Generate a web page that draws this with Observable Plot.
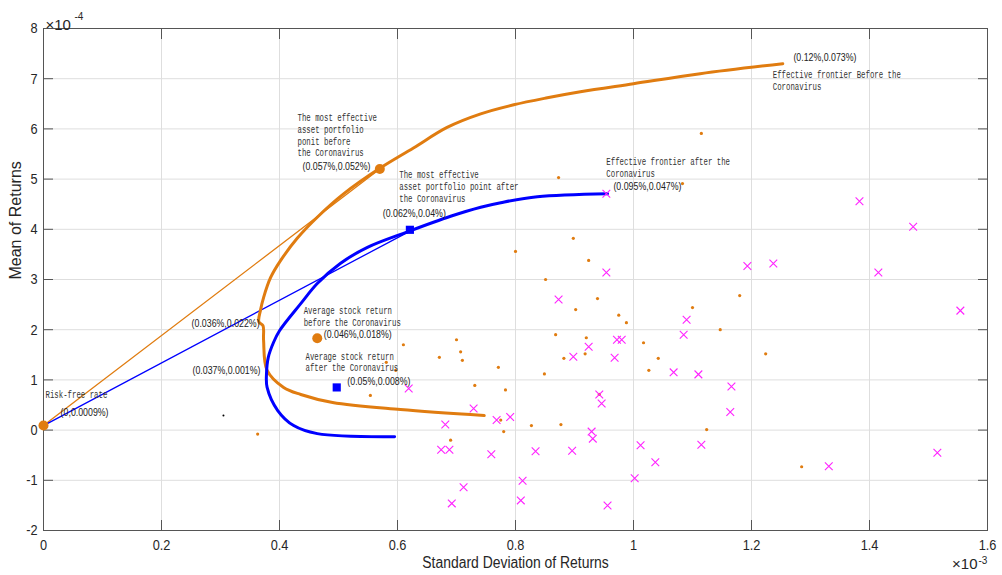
<!DOCTYPE html>
<html><head><meta charset="utf-8">
<script src="https://cdn.jsdelivr.net/npm/d3@7"></script>
<script src="https://cdn.jsdelivr.net/npm/@observablehq/plot@0.6"></script>
<style>body{margin:0;background:#fff;overflow:hidden}</style>
</head><body><div id="chart"></div>
<script>
// Units: x in 1e-3, y in 1e-4 (as on the axes)
const xTicks = [0, 0.2, 0.4, 0.6, 0.8, 1.0, 1.2, 1.4, 1.6];
const yTicks = [-2, -1, 0, 1, 2, 3, 4, 5, 6, 7, 8];

const beforeFrontierSD   = [0.747, 0.605, 0.49, 0.436, 0.407, 0.379, 0.373, 0.372, 0.365, 0.368, 0.373, 0.385, 0.402, 0.43, 0.464, 0.508, 0.568, 0.627, 0.684, 0.741, 0.797, 0.854, 0.91, 1.0, 1.113, 1.253];
const beforeFrontierMean = [0.29, 0.41, 0.55, 0.71, 0.85, 1.19, 1.79, 2.08, 2.16, 2.4, 2.64, 3.04, 3.38, 3.82, 4.24, 4.7, 5.2, 5.62, 6.03, 6.3, 6.48, 6.62, 6.74, 6.9, 7.1, 7.3];

const afterFrontierSD   = [0.595, 0.464, 0.424, 0.397, 0.379, 0.378, 0.381, 0.39, 0.40, 0.436, 0.464, 0.503, 0.549, 0.617, 0.69, 0.741, 0.775, 0.837, 0.956];
const afterFrontierMean = [-0.13, -0.07, 0.09, 0.39, 0.85, 1.13, 1.45, 1.75, 1.98, 2.52, 2.92, 3.32, 3.64, 3.95, 4.26, 4.44, 4.53, 4.65, 4.71];

const cmlBeforeSD = [0, 0.57], cmlBeforeMean = [0.09, 5.2];
const cmlAfterSD  = [0, 0.622], cmlAfterMean = [0.09, 3.97];

const stocksBeforeSD = [1.115, 0.873, 1.083, 0.898, 0.800, 0.924, 0.851, 0.939, 1.180, 0.902, 1.100, 0.975, 0.988, 0.868, 0.920, 1.147, 1.017, 0.882, 0.918, 1.042, 1.224, 1.026, 0.849, 0.783, 0.942, 0.775, 0.827, 0.877, 0.780, 1.124, 1.285, 0.610, 0.700, 0.707, 0.710, 0.671, 0.581, 0.597, 0.554, 0.771, 0.731, 0.690, 0.363];
const stocksBeforeMean = [5.91, 5.03, 4.91, 3.82, 3.56, 3.38, 3.00, 2.62, 2.68, 2.40, 2.44, 2.29, 2.14, 1.90, 1.84, 2.00, 1.74, 1.43, 1.52, 1.43, 1.52, 1.19, 1.12, 0.80, 0.71, 0.20, 0.09, 0.11, -0.03, 0.01, -0.73, 1.70, 1.80, 1.56, 1.39, 1.45, 1.35, 1.19, 0.69, 1.25, 0.89, -0.20, -0.08];

const stocksAfterSD = [0.954, 1.383, 1.474, 0.954, 1.193, 1.237, 1.415, 0.873, 1.554, 1.090, 1.085, 0.924, 0.972, 0.980, 0.898, 0.968, 1.068, 1.110, 1.166, 0.942, 0.946, 1.164, 0.791, 0.929, 0.931, 0.834, 0.896, 1.012, 1.115, 1.037, 1.331, 1.515, 0.812, 1.002, 0.809, 0.956, 0.619, 0.729, 0.681, 0.768, 0.674, 0.688, 0.759, 0.712, 0.692];
const stocksAfterMean = [4.71, 4.56, 4.05, 3.14, 3.27, 3.32, 3.14, 2.60, 2.38, 2.20, 1.90, 1.66, 1.80, 1.80, 1.46, 1.44, 1.15, 1.11, 0.87, 0.71, 0.53, 0.36, 0.26, -0.03, -0.17, -0.42, -0.41, -0.30, -0.29, -0.64, -0.72, -0.45, -1.01, -0.96, -1.40, -1.50, 0.83, 0.43, 0.11, 0.20, -0.39, -0.39, -0.48, -1.14, -1.46];

const tangentBefore = [0.57, 5.2];
const tangentAfter  = [0.621, 3.99];
const avgBefore = [0.464, 1.83];
const avgAfter  = [0.497, 0.85];
const riskFree  = [0, 0.09];
const blackDot  = [0.305, 0.29];

const noteText = [
  "The most effective\nasset portfolio\nponit before\nthe Coronavirus",
  "The most effective\nasset portfolio point after\nthe Coronavirus",
  "Effective frontier Before the\nCoronavirus",
  "Effective frontier after the\nCoronavirus",
  "Average stock return\nbefore the Coronavirus",
  "Average stock return\nafter the Coronavirus",
  "Risk-free rate"
];
const noteX = [0.4305, 0.603, 1.236, 0.954, 0.441, 0.444, 0.0034];
const noteY = [5.88, 4.86, 6.97, 5.24, 2.27, 1.36, 0.71];

const coordText = ["(0.057%,0.052%)", "(0.062%,0.04%)", "(0.12%,0.073%)", "(0.095%,0.047%)", "(0.046%,0.018%)", "(0.05%,0.008%)", "(0.036%,0.022%)", "(0.037%,0.001%)", "(0,0.0009%)"];
const coordX = [0.439, 0.575, 1.271, 0.966, 0.475, 0.515, 0.251, 0.2525, 0.029];
const coordY = [5.25, 4.31, 7.42, 4.85, 1.91, 0.96, 2.12, 1.19, 0.35];

const ORANGE = "#e07c10", BLUE = "#0000ff", MAGENTA = "#ff22ff";
const idx = a => a.map((_, i) => i);

const plot = Plot.plot({
  width: 1002, height: 575,
  marginLeft: 43, marginRight: 15, marginTop: 28, marginBottom: 45,
  style: {background: "#fff", fontFamily: "Liberation Sans, Arial, sans-serif"},
  x: {domain: [0, 1.6], axis: null},
  y: {domain: [-2, 8], axis: null},
  marks: [
    Plot.gridX(xTicks, {stroke: "#dedede", strokeOpacity: 1}),
    Plot.gridY(yTicks, {stroke: "#dedede", strokeOpacity: 1}),
    Plot.frame({stroke: "#555", strokeWidth: 1}),
    Plot.axisX(xTicks, {anchor: "bottom", tickSize: -10, tickPadding: 19, tickFormat: d => `${+d.toFixed(1)}`, fontSize: 15, stroke: "#555", fill: "#262626", label: null}),
    Plot.axisX(xTicks, {anchor: "top", tickSize: -10, tickFormat: () => "", stroke: "#555", label: null}),
    Plot.axisY(yTicks, {anchor: "left", tickSize: -10, tickPadding: 16, tickFormat: d => `${d}`, fontSize: 15, stroke: "#555", fill: "#262626", label: null}),
    Plot.axisY(yTicks, {anchor: "right", tickSize: -10, tickFormat: () => "", stroke: "#555", label: null}),
    // axis titles and exponents
    Plot.text(["Standard Deviation of Returns"], {frameAnchor: "bottom", dy: 37, fontSize: 16, fill: "#262626"}),
    Plot.text(["Mean of Returns"], {frameAnchor: "left", dx: -28, rotate: -90, fontSize: 16, fill: "#262626"}),
    Plot.text(["×10"], {frameAnchor: "top-left", dx: 2, dy: -9, textAnchor: "start", fontSize: 15, fill: "#262626"}),
    Plot.text(["-4"], {frameAnchor: "top-left", dx: 31, dy: -16, textAnchor: "start", fontSize: 10, fill: "#262626"}),
    Plot.text(["×10"], {frameAnchor: "bottom-right", dx: -10, dy: 38, textAnchor: "end", fontSize: 15, fill: "#262626"}),
    Plot.text(["-3"], {frameAnchor: "bottom-right", dx: -9, dy: 33, textAnchor: "start", fontSize: 10, fill: "#262626"}),
    // capital market lines
    Plot.line(idx(cmlBeforeSD), {x: i => cmlBeforeSD[i], y: i => cmlBeforeMean[i], stroke: ORANGE, strokeWidth: 1.3}),
    Plot.line(idx(cmlAfterSD), {x: i => cmlAfterSD[i], y: i => cmlAfterMean[i], stroke: BLUE, strokeWidth: 1.3}),
    // frontiers
    Plot.line(idx(beforeFrontierSD), {x: i => beforeFrontierSD[i], y: i => beforeFrontierMean[i], stroke: ORANGE, strokeWidth: 3, curve: "catmull-rom"}),
    Plot.line(idx(afterFrontierSD), {x: i => afterFrontierSD[i], y: i => afterFrontierMean[i], stroke: BLUE, strokeWidth: 3, curve: "catmull-rom"}),
    // stocks
    Plot.dot(idx(stocksBeforeSD), {x: i => stocksBeforeSD[i], y: i => stocksBeforeMean[i], r: 1.6, fill: ORANGE, stroke: null}),
    Plot.dot(idx(stocksAfterSD), {x: i => stocksAfterSD[i], y: i => stocksAfterMean[i], symbol: "times", r: 3.6, stroke: MAGENTA, strokeWidth: 1.1}),
    // special markers
    Plot.dot([tangentBefore, avgBefore, riskFree], {x: d => d[0], y: d => d[1], r: 5, fill: ORANGE}),
    Plot.dot([tangentAfter, avgAfter], {x: d => d[0], y: d => d[1], symbol: "square", r: 4.6, fill: BLUE}),
    Plot.dot([blackDot], {x: d => d[0], y: d => d[1], r: 1, fill: "#000"}),
    // annotations
    Plot.text(idx(noteText), {x: i => noteX[i], y: i => noteY[i], text: i => noteText[i], textAnchor: "start", lineAnchor: "middle", lineHeight: 1.02, fontSize: 11.5, fontFamily: "Liberation Mono", fill: "#333"}),
    Plot.text(idx(coordText), {x: i => coordX[i], y: i => coordY[i], text: i => coordText[i], textAnchor: "start", lineAnchor: "middle", fontSize: 11, fill: "#222", fontFamily: "Liberation Sans"})
  ]
});
document.getElementById("chart").append(plot);

// horizontal condensing of text, as in the reference rendering
function squeeze(sel, factor) {
  sel.each(function() {
    const len = this.getComputedTextLength();
    if (len > 0) {
      this.setAttribute("textLength", (len * factor).toFixed(2));
      this.setAttribute("lengthAdjust", "spacingAndGlyphs");
    }
  });
}
const svg = d3.select(plot);
svg.selectAll('g[font-family="Liberation Mono"] text').each(function() {
  const t = d3.select(this).selectAll("tspan");
  if (t.size()) squeeze(t, 0.64); else squeeze(d3.select(this), 0.64);
});
squeeze(svg.selectAll('g[font-family="Liberation Sans"] text'), 0.8);
squeeze(svg.selectAll('g[aria-label="x-axis tick label"] text'), 0.85);
squeeze(svg.selectAll('g[aria-label="y-axis tick label"] text'), 0.85);
squeeze(svg.selectAll("text").filter(function() { return this.textContent === "Standard Deviation of Returns"; }), 0.87);
</script>
</body></html>
